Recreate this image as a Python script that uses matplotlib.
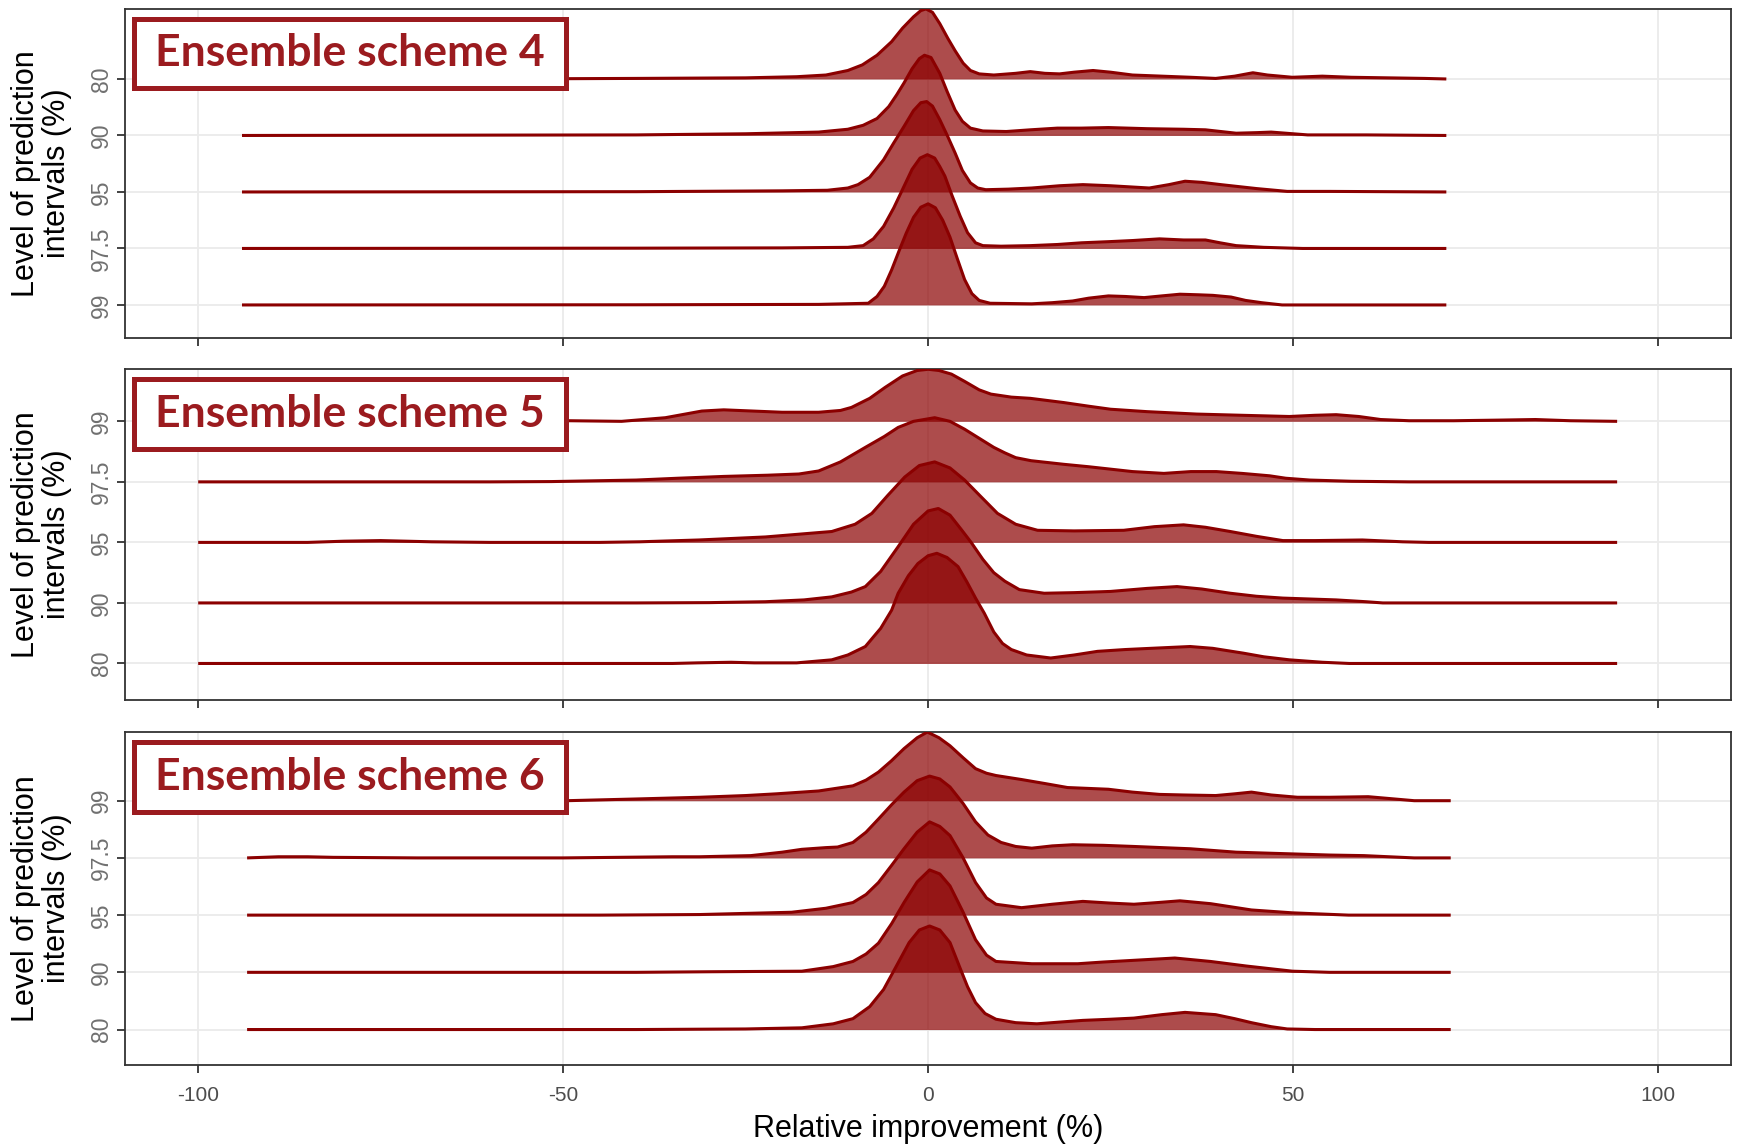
import matplotlib.pyplot as plt
from matplotlib.patches import Rectangle
import numpy as np

plt.rcParams["font.family"] = ["Liberation Sans", "DejaVu Sans"]
plt.rcParams["axes.unicode_minus"] = False

X_TICKS = [-100, -50, 0, 50, 100]
TITLES = ["Ensemble scheme 4", "Ensemble scheme 5", "Ensemble scheme 6"]

# row order of each panel, bottom to top
S4_ORDER = ["99", "97.5", "95", "90", "80"]
S5_ORDER = ["80", "90", "95", "97.5", "99"]
S6_ORDER = ["80", "90", "95", "97.5", "99"]

# ridges: (relative improvement %, height in row units)
S4_80 = [(-94, 0), (-60, 0.0), (-40, 0.01), (-25, 0.02), (-18, 0.04), (-14, 0.07), (-11, 0.15),
         (-9, 0.25), (-7, 0.42), (-5, 0.66), (-3.5, 0.9), (-2, 1.1), (-1, 1.21), (-0.3, 1.24),
         (0.6, 1.18), (1.6, 0.98), (2.7, 0.72), (3.7, 0.5), (4.8, 0.28), (5.8, 0.15), (7, 0.09),
         (9, 0.07), (12, 0.1), (14, 0.13), (16, 0.1), (18, 0.09), (20, 0.12), (22.6, 0.15),
         (25, 0.12), (28, 0.07), (32, 0.05), (36, 0.03), (39.4, 0.01), (42, 0.05), (44.5, 0.11),
         (46.5, 0.07), (49.9, 0.03), (54, 0.05), (58, 0.03), (63, 0.02), (68, 0.01), (71, 0)]
S4_90 = [(-94, 0), (-40, 0.01), (-25, 0.03), (-15, 0.06), (-11, 0.11), (-8.9, 0.18), (-7, 0.3),
         (-5.4, 0.51), (-4.3, 0.72), (-3.3, 0.93), (-2.2, 1.18), (-1.2, 1.36), (-0.5, 1.42),
         (0.4, 1.38), (1.6, 1.1), (2.6, 0.78), (3.7, 0.45), (4.7, 0.25), (5.8, 0.13), (7.5, 0.08),
         (10.7, 0.07), (14, 0.1), (17.7, 0.13), (21, 0.13), (24.7, 0.14), (30, 0.12), (35, 0.11),
         (38, 0.1), (42.2, 0.04), (45, 0.05), (47, 0.06), (50, 0.03), (52, 0.01), (60, 0.01), (71, 0)]
S4_95 = [(-94, 0), (-40, 0.005), (-20, 0.02), (-13.8, 0.03), (-11, 0.07), (-9.6, 0.13), (-8, 0.26),
         (-6.1, 0.57), (-4.7, 0.87), (-3.3, 1.16), (-2, 1.44), (-1, 1.58), (-0.2, 1.6), (0.6, 1.52),
         (1.6, 1.28), (2.7, 0.98), (3.7, 0.69), (4.7, 0.38), (5.8, 0.16), (6.8, 0.07), (7.9, 0.04),
         (11, 0.05), (14.2, 0.07), (18, 0.11), (21.2, 0.13), (25, 0.11), (30.3, 0.07), (33, 0.13),
         (35.2, 0.19), (37.5, 0.17), (40.1, 0.13), (45, 0.06), (49.2, 0.01), (55, 0.01), (71, 0)]
S4_975 = [(-94, 0), (-40, 0.005), (-20, 0.01), (-11, 0.02), (-8.9, 0.05), (-7.5, 0.17), (-6.1, 0.39),
          (-4.7, 0.72), (-3.3, 1.1), (-2.2, 1.4), (-1.1, 1.6), (-0.1, 1.66), (0.9, 1.6), (1.6, 1.45),
          (2.3, 1.28), (3.3, 0.93), (4.4, 0.57), (5.4, 0.28), (6.5, 0.1), (7.5, 0.05), (10, 0.04),
          (14, 0.05), (17.7, 0.07), (21, 0.1), (24.7, 0.12), (28, 0.14), (31.7, 0.17), (35, 0.15),
          (38, 0.15), (40, 0.1), (42.2, 0.05), (46, 0.02), (51.3, 0), (71, 0)]
S4_99 = [(-94, 0), (-40, 0.003), (-15, 0.01), (-8.2, 0.03), (-7, 0.15), (-6, 0.33), (-5, 0.62),
         (-4, 0.95), (-3, 1.27), (-2, 1.55), (-1, 1.73), (0, 1.79), (1, 1.72), (2, 1.5), (3, 1.2),
         (4, 0.82), (5, 0.45), (6, 0.2), (7, 0.08), (8.5, 0.03), (14.2, 0.02), (17, 0.04), (19.8, 0.07),
         (22, 0.12), (24.7, 0.16), (27, 0.15), (29.6, 0.13), (32, 0.16), (34.5, 0.19), (37, 0.18),
         (39, 0.17), (41.5, 0.14), (43.5, 0.08), (45.7, 0.04), (48.5, 0.0), (71, 0)]

S5_99 = [(-100, 0), (-70, 0.0), (-55, 0.005), (-49, 0.01), (-42, 0.0), (-36, 0.06), (-31, 0.17),
         (-28, 0.19), (-24, 0.17), (-20, 0.15), (-15, 0.15), (-12, 0.18), (-10.5, 0.23), (-8, 0.38),
         (-5.9, 0.56), (-3.5, 0.75), (-1.5, 0.84), (0, 0.86), (1.5, 0.84), (3.2, 0.78), (5, 0.66),
         (7, 0.52), (8.6, 0.45), (11.4, 0.4), (14, 0.38), (18.6, 0.31), (22, 0.25), (25, 0.2),
         (30, 0.16), (36.8, 0.12), (43, 0.1), (49.5, 0.08), (53, 0.1), (55.9, 0.11), (59, 0.08),
         (62, 0.03), (65.9, 0.01), (72, 0.01), (78, 0.02), (83.2, 0.03), (88, 0.01), (94.4, 0)]
S5_975 = [(-100, 0), (-60, 0.0), (-51.6, 0.005), (-40, 0.03), (-34.3, 0.06), (-28, 0.09), (-22, 0.11),
          (-17.7, 0.13), (-15, 0.18), (-12, 0.33), (-8.6, 0.57), (-6, 0.75), (-4.1, 0.9), (-2, 1.0),
          (0.9, 1.06), (3, 1.0), (5, 0.87), (7, 0.72), (9, 0.57), (10.5, 0.48), (12, 0.4), (14.1, 0.35),
          (18.6, 0.29), (22, 0.25), (25, 0.21), (28, 0.17), (32.3, 0.14), (36, 0.17), (39.5, 0.17),
          (43, 0.14), (46.8, 0.1), (49, 0.06), (52.3, 0.03), (58, 0.01), (65.9, 0), (94.4, 0)]
S5_95 = [(-100, 0), (-85, 0.0), (-80, 0.02), (-75, 0.03), (-68, 0.01), (-60, 0.0), (-45, 0.0),
         (-39.5, 0.01), (-31.4, 0.04), (-22.3, 0.09), (-13.2, 0.18), (-10, 0.3), (-7.7, 0.48),
         (-5.5, 0.78), (-3.2, 1.08), (-1.2, 1.27), (0.9, 1.33), (3, 1.23), (5, 1.03), (7.2, 0.76),
         (9.5, 0.48), (12, 0.3), (15, 0.2), (20, 0.19), (26.8, 0.2), (31, 0.26), (35, 0.29),
         (38, 0.25), (41.4, 0.18), (45, 0.1), (48.6, 0.03), (53, 0.03), (59.5, 0.04), (65, 0.01),
         (68.6, 0), (94.4, 0)]
S5_90 = [(-100, 0), (-40, 0), (-30, 0.005), (-22.3, 0.02), (-17, 0.05), (-13.2, 0.1), (-10.5, 0.18),
         (-8.6, 0.27), (-6.5, 0.52), (-4.1, 0.93), (-2, 1.3), (0, 1.52), (1.4, 1.56), (3, 1.45),
         (4.5, 1.22), (5.9, 1.0), (7.5, 0.72), (9, 0.5), (10.5, 0.36), (12.5, 0.22), (15.9, 0.16),
         (20, 0.17), (25, 0.19), (30, 0.24), (34.1, 0.27), (37.5, 0.23), (41.4, 0.16), (45, 0.11),
         (48.6, 0.08), (55.9, 0.05), (60, 0.02), (62.3, 0), (94.4, 0)]
S5_80 = [(-100, 0), (-35, 0.0), (-31.6, 0.01), (-27, 0.02), (-23.8, 0.01), (-18, 0.01), (-13.2, 0.06),
         (-11, 0.14), (-8.6, 0.28), (-6.5, 0.58), (-5, 0.88), (-4.1, 1.16), (-2.7, 1.45), (-1.4, 1.65),
         (0, 1.78), (1.2, 1.82), (2.6, 1.75), (4.1, 1.6), (5.3, 1.35), (6.5, 1.08), (7.7, 0.83),
         (9, 0.52), (10.2, 0.33), (11.4, 0.23), (13.5, 0.14), (16.8, 0.09), (20, 0.14), (23.2, 0.2),
         (27, 0.23), (30.5, 0.25), (35.9, 0.28), (39, 0.25), (43.2, 0.17), (46, 0.11), (49.5, 0.06),
         (54, 0.02), (57.7, 0), (94.4, 0)]

S6_99 = [(-93.3, 0), (-49.5, 0.0), (-40, 0.03), (-31.3, 0.06), (-25, 0.09), (-20.8, 0.12), (-15, 0.17),
         (-10.3, 0.26), (-8.5, 0.36), (-6.8, 0.5), (-5, 0.7), (-3.3, 0.91), (-1.5, 1.1), (-0.1, 1.2),
         (1.5, 1.1), (3, 0.96), (4.8, 0.75), (6.5, 0.56), (8, 0.48), (9.3, 0.44), (12.8, 0.37),
         (16, 0.3), (19.1, 0.23), (24.7, 0.2), (28, 0.15), (31.7, 0.11), (35, 0.1), (39.4, 0.09),
         (42, 0.12), (44.3, 0.15), (47, 0.1), (50.6, 0.06), (55, 0.06), (60.3, 0.07), (63, 0.04),
         (66.6, 0.0), (71.6, 0)]
S6_975 = [(-93.3, 0), (-89, 0.02), (-85, 0.02), (-81.5, 0.01), (-70, 0.0), (-50, 0.0), (-35, 0.02),
          (-31.3, 0.02), (-24.3, 0.04), (-20, 0.1), (-17.3, 0.15), (-14, 0.18), (-12.4, 0.19),
          (-10.3, 0.27), (-8.5, 0.45), (-6.8, 0.68), (-5, 0.93), (-3.3, 1.15), (-1.5, 1.35),
          (0.2, 1.43), (1.6, 1.38), (3, 1.24), (4.8, 0.95), (6.5, 0.63), (8.2, 0.4), (10, 0.27),
          (12, 0.2), (14.2, 0.17), (17, 0.21), (19.8, 0.23), (24, 0.22), (28.2, 0.2), (32, 0.18),
          (35.9, 0.16), (42.2, 0.1), (49.9, 0.07), (55, 0.05), (59.7, 0.04), (66.6, 0), (71.6, 0)]
S6_95 = [(-93.3, 0), (-45, 0.0), (-31.3, 0.01), (-18.7, 0.05), (-14, 0.12), (-10.3, 0.22), (-8.5, 0.36),
         (-6.8, 0.57), (-5, 0.87), (-3.3, 1.16), (-1.5, 1.45), (0.2, 1.63), (1.6, 1.55), (3, 1.39),
         (4.8, 1.0), (6.5, 0.57), (8, 0.3), (9.3, 0.19), (12.8, 0.13), (17, 0.19), (21.2, 0.24),
         (25, 0.21), (28.2, 0.19), (31.5, 0.22), (34.5, 0.25), (38.7, 0.2), (44.3, 0.09), (49.9, 0.04),
         (57.6, 0), (71.6, 0)]
S6_90 = [(-93.3, 0), (-40, 0.0), (-30, 0.01), (-17.3, 0.02), (-13, 0.1), (-10.3, 0.19), (-8.5, 0.32),
         (-6.8, 0.51), (-5, 0.85), (-3.3, 1.22), (-1.5, 1.58), (0.2, 1.79), (1.6, 1.72), (3, 1.51),
         (4.8, 1.05), (6.5, 0.57), (8, 0.3), (9.3, 0.19), (14.2, 0.15), (20.5, 0.15), (24, 0.18),
         (28.2, 0.21), (33.8, 0.25), (38.7, 0.19), (43.6, 0.11), (49.9, 0.02), (55, 0.0), (71.6, 0)]
S6_80 = [(-93.3, 0), (-40, 0.0), (-25, 0.01), (-17.3, 0.03), (-13, 0.1), (-10.3, 0.19), (-8, 0.4),
         (-6.1, 0.7), (-4.3, 1.12), (-2.6, 1.52), (-1.2, 1.74), (0.2, 1.81), (1.6, 1.74), (3, 1.52),
         (4.3, 1.1), (5.4, 0.75), (6.5, 0.47), (7.8, 0.28), (9.3, 0.18), (12, 0.12), (14.9, 0.1),
         (18, 0.13), (21.2, 0.16), (25, 0.18), (28.2, 0.2), (32, 0.26), (35.2, 0.3), (39.4, 0.26),
         (42, 0.19), (44.3, 0.12), (47, 0.05), (49.2, 0.01), (53, 0), (71.6, 0)]

RED = "#8B0000"
LABEL_RED = "#9B1B1F"
GRID = "#EBEBEB"
DARK = "#333333"


def draw_panel(ax, title, order, ridges, ylim):
    n = len(order)
    # top rows first so the lower ridges sit in front
    for pos in range(n, 0, -1):
        pts = np.asarray(ridges[order[pos - 1]], dtype=float)
        x, h = pts[:, 0], pts[:, 1]
        z = 10 + (n - pos) * 2
        ax.fill_between(x, pos, pos + h, color=RED, alpha=0.7, lw=0, zorder=z)
        ax.plot(x, pos + h, color=RED, lw=2.2, solid_capstyle="butt",
                solid_joinstyle="round", zorder=z + 1)

    ax.set_xlim(-110, 110)
    ax.set_ylim(*ylim)
    ax.set_xticks(X_TICKS)
    ax.set_yticks(range(1, n + 1))
    ax.set_yticklabels(order, rotation=90, va="center", fontsize=16.5, color="#707070")
    ax.grid(True, color=GRID, lw=1.3, zorder=0)
    ax.set_axisbelow(True)
    for s in ax.spines.values():
        s.set_color(DARK)
        s.set_linewidth(1.3)
    ax.tick_params(axis="both", colors=DARK, length=6, width=1.3)
    ax.tick_params(axis="y", labelcolor="#707070", pad=3)
    ax.tick_params(axis="x", labelcolor="#4D4D4D", labelsize=15, pad=9)
    ax.set_ylabel("Level of prediction\nintervals (%)", fontsize=22, labelpad=13, linespacing=1.05)

    box = Rectangle((0.0055, 0.76), 0.2687, 0.21, transform=ax.transAxes, facecolor="white",
                    edgecolor=LABEL_RED, lw=3.6, zorder=50, clip_on=False)
    ax.add_patch(box)
    ax.text(0.1398, 0.866, title, transform=ax.transAxes, ha="center", va="center",
            fontsize=32, fontweight="bold", family=["Lato", "DejaVu Sans"], color=LABEL_RED,
            zorder=51)


def main():
    fig = plt.figure(figsize=(17.39, 11.44), dpi=100)
    rects = [
        [0.072, 0.7043, 0.9234, 0.2879],
        [0.072, 0.3883, 0.9234, 0.2889],
        [0.072, 0.0693, 0.9234, 0.2908],
    ]
    panels = [
        (S4_ORDER, {"80": S4_80, "90": S4_90, "95": S4_95, "97.5": S4_975, "99": S4_99}, (0.41, 6.24)),
        (S5_ORDER, {"80": S5_80, "90": S5_90, "95": S5_95, "97.5": S5_975, "99": S5_99}, (0.40, 5.86)),
        (S6_ORDER, {"80": S6_80, "90": S6_90, "95": S6_95, "97.5": S6_975, "99": S6_99}, (0.385, 6.2)),
    ]
    axes = []
    for i, (rect, (order, ridges, ylim)) in enumerate(zip(rects, panels)):
        ax = fig.add_axes(rect)
        draw_panel(ax, TITLES[i], order, ridges, ylim)
        if i < 2:
            ax.tick_params(axis="x", labelbottom=False)
        axes.append(ax)

    axes[-1].set_xlabel("Relative improvement (%)", fontsize=22, labelpad=7)
    fig.savefig("out.png", dpi=100)


if __name__ == "__main__":
    main()
